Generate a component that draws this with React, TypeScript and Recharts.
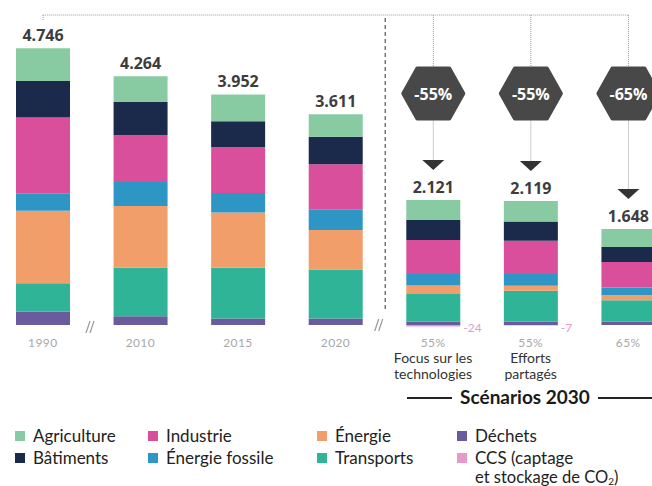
import React from "react";
import { BarChart, Bar, XAxis, YAxis, LabelList, ReferenceLine } from "recharts";

// categories (ids) and their axis texts
const CATEGORIES = ["1990", "2010", "2015", "2020", "s55tech", "s55eff", "s65"];
const TICK_MAIN = ["1990", "2010", "2015", "2020", "55%", "55%", "65%"];
const TICK_SUB = [[], [], [], [], ["Focus sur les", "technologies"], ["Efforts", "partagés"], []];
const TOTALS = ["4.746", "4.264", "3.952", "3.611", "2.121", "2.119", "1.648"];
const REDUCTIONS = ["", "", "", "", "-55%", "-55%", "-65%"];

// series, Mt CO2e
const DECHETS = [229, 152, 114, 114, 57, 58, 57];
const TRANSPORTS = [487, 828, 866, 840, 477, 530, 368];
const ENERGIE = [1245, 1062, 948, 674, 142, 86, 86];
const FOSSILE = [298, 411, 335, 355, 200, 200, 132];
const INDUSTRIE = [1297, 800, 787, 771, 583, 571, 439];
const BATIMENTS = [629, 571, 445, 473, 343, 331, 257];
const AGRICULTURE = [561, 440, 457, 384, 343, 350, 309];
const CCS = [0, 0, 0, 0, -24, -7, 0];

const C = {
  agri: "#88cba3",
  bat: "#1b2a4b",
  ind: "#d94f9b",
  fos: "#2e96c5",
  ene: "#f29e6b",
  tra: "#2fb497",
  dec: "#6a5b9c",
  ccs: "#e59ac9",
};

const data = CATEGORIES.map((cat, i) => ({
  cat,
  dechets: DECHETS[i],
  transports: TRANSPORTS[i],
  energie: ENERGIE[i],
  fossile: FOSSILE[i],
  industrie: INDUSTRIE[i],
  batiments: BATIMENTS[i],
  agriculture: AGRICULTURE[i],
  ccs: CCS[i],
}));

const DOT = "#9a9a9a";
const HEX_Y = 93.5;

function Slashes({ x, y }: { x: number; y: number }) {
  return (
    <g stroke="#999" strokeWidth={1.2}>
      <line x1={x - 4} y1={y + 6} x2={x} y2={y - 6} />
      <line x1={x} y1={y + 6} x2={x + 4} y2={y - 6} />
    </g>
  );
}

function TopLabel(props: any) {
  const { x, y, width, value } = props;
  const i = CATEGORIES.indexOf(value);
  const cx = x + width / 2;
  const red = REDUCTIONS[i];
  return (
    <g>
      <text x={cx} y={y - 7} textAnchor="middle" fontFamily="Open Sans" fontWeight={700} fontSize={16} fill="#3d3d3d">
        {TOTALS[i]}
      </text>
      {i === 0 && (
        <>
          <line x1={cx} y1={15} x2={cx} y2={21} stroke={DOT} strokeDasharray="1 1" />
          <Slashes x={cx + 47} y={327} />
        </>
      )}
      {i === 3 && (
        <>
          <line x1={cx + 49.5} y1={18} x2={cx + 49.5} y2={310} stroke="#555" strokeWidth={1.2} strokeDasharray="4 3" />
          <Slashes x={cx + 43} y={325} />
        </>
      )}
      {red && (
        <>
          <line x1={cx} y1={15} x2={cx} y2={HEX_Y - 26} stroke={DOT} strokeDasharray="1 1" />
          <line x1={cx} y1={HEX_Y + 26} x2={cx} y2={y - 40} stroke={DOT} strokeDasharray="1 1" />
          <polygon
            points={`${cx - 30},${HEX_Y} ${cx - 16},${HEX_Y - 25} ${cx + 16},${HEX_Y - 25} ${cx + 30},${HEX_Y} ${cx + 16},${HEX_Y + 25} ${cx - 16},${HEX_Y + 25}`}
            fill="#484848"
            stroke="#484848"
            strokeWidth={4}
            strokeLinejoin="round"
          />
          <text x={cx} y={HEX_Y + 6} textAnchor="middle" fontFamily="Open Sans" fontWeight={700} fontSize={16} fill="#fff">
            {red}
          </text>
          <polygon points={`${cx - 11},${y - 40} ${cx + 11},${y - 40} ${cx},${y - 30}`} fill="#333" />
        </>
      )}
    </g>
  );
}

function CcsLabel(props: any) {
  const { x, y, width, height, value } = props;
  if (!value) return null;
  const top = Math.min(y, y + height);
  return (
    <text x={x + width + 3} y={top + 7} fontFamily="Lato" fontSize={12} fill={C.ccs}>
      {value}
    </text>
  );
}

function Tick(props: any) {
  const { x, payload } = props;
  const i = CATEGORIES.indexOf(payload.value);
  return (
    <g>
      <text x={x} y={347} textAnchor="middle" fontFamily="Lato" fontSize={12} letterSpacing={0.4} fill="#a8a8a8">
        {TICK_MAIN[i]}
      </text>
      {TICK_SUB[i].map((s, k) => (
        <text key={k} x={x} y={363 + k * 16} textAnchor="middle" fontFamily="Lato" fontSize={14} fill="#333">
          {s}
        </text>
      ))}
    </g>
  );
}

const LEGEND = [
  { label: "Agriculture", color: C.agri, x: 15, row: 0 },
  { label: "Bâtiments", color: C.bat, x: 15, row: 1 },
  { label: "Industrie", color: C.ind, x: 148, row: 0 },
  { label: "Énergie fossile", color: C.fos, x: 148, row: 1 },
  { label: "Énergie", color: C.ene, x: 317, row: 0 },
  { label: "Transports", color: C.tra, x: 317, row: 1 },
  { label: "Déchets", color: C.dec, x: 457, row: 0 },
  { label: "CCS (captage", color: C.ccs, x: 457, row: 1 },
];

export default function App() {
  return (
    <div
      style={{
        position: "fixed",
        left: 0,
        top: 0,
        width: 652,
        height: 486,
        overflow: "hidden",
        background: "#fff",
        fontFamily: "Lato",
      }}
    >
      <div style={{ position: "absolute", left: -20, top: 0 }}>
        <BarChart
          width={697}
          height={486}
          data={data}
          stackOffset="sign"
          barSize={54}
          margin={{ top: 10, right: 0, bottom: 109.3, left: 14 }}
        >
          <XAxis dataKey="cat" axisLine={false} tickLine={false} height={40} tick={<Tick />} interval={0} />
          <YAxis hide domain={[-200, 5400]} allowDataOverflow />
          <ReferenceLine
            segment={[
              { x: "1990", y: 5314 },
              { x: "s65", y: 5314 },
            ]}
            stroke={DOT}
            strokeDasharray="1 1"
            ifOverflow="visible"
          />
          <Bar dataKey="ccs" stackId="a" fill={C.ccs} isAnimationActive={false}>
            <LabelList dataKey="ccs" content={<CcsLabel />} />
          </Bar>
          <Bar dataKey="dechets" stackId="a" fill={C.dec} isAnimationActive={false} />
          <Bar dataKey="transports" stackId="a" fill={C.tra} isAnimationActive={false} />
          <Bar dataKey="energie" stackId="a" fill={C.ene} isAnimationActive={false} />
          <Bar dataKey="fossile" stackId="a" fill={C.fos} isAnimationActive={false} />
          <Bar dataKey="industrie" stackId="a" fill={C.ind} isAnimationActive={false} />
          <Bar dataKey="batiments" stackId="a" fill={C.bat} isAnimationActive={false} />
          <Bar dataKey="agriculture" stackId="a" fill={C.agri} isAnimationActive={false}>
            <LabelList dataKey="cat" content={<TopLabel />} />
          </Bar>
        </BarChart>
      </div>

      {/* Scénarios 2030 heading */}
      <div style={{ position: "absolute", left: 407, top: 397, width: 45, height: 1.5, background: "#222" }} />
      <div
        style={{
          position: "absolute",
          left: 452,
          width: 146,
          top: 385,
          textAlign: "center",
          fontWeight: 700,
          fontSize: 19,
          color: "#1a1a1a",
          lineHeight: "24px",
        }}
      >
        Scénarios 2030
      </div>
      <div style={{ position: "absolute", left: 598, top: 397, width: 60, height: 1.5, background: "#222" }} />

      {/* legend */}
      {LEGEND.map((l) => (
        <div
          key={l.label}
          style={{
            position: "absolute",
            left: l.x,
            top: 426 + l.row * 22,
            display: "flex",
            alignItems: "center",
            fontSize: 17,
            color: "#222",
            lineHeight: "20px",
          }}
        >
          <span style={{ width: 10, height: 10, background: l.color, marginRight: 8, display: "inline-block" }} />
          {l.label}
        </div>
      ))}
      <div style={{ position: "absolute", left: 475, top: 469, fontSize: 16.5, color: "#222", lineHeight: "16px" }}>
        et stockage de CO<span style={{ fontSize: 10, position: "relative", top: 2 }}>2</span>)
      </div>
    </div>
  );
}
